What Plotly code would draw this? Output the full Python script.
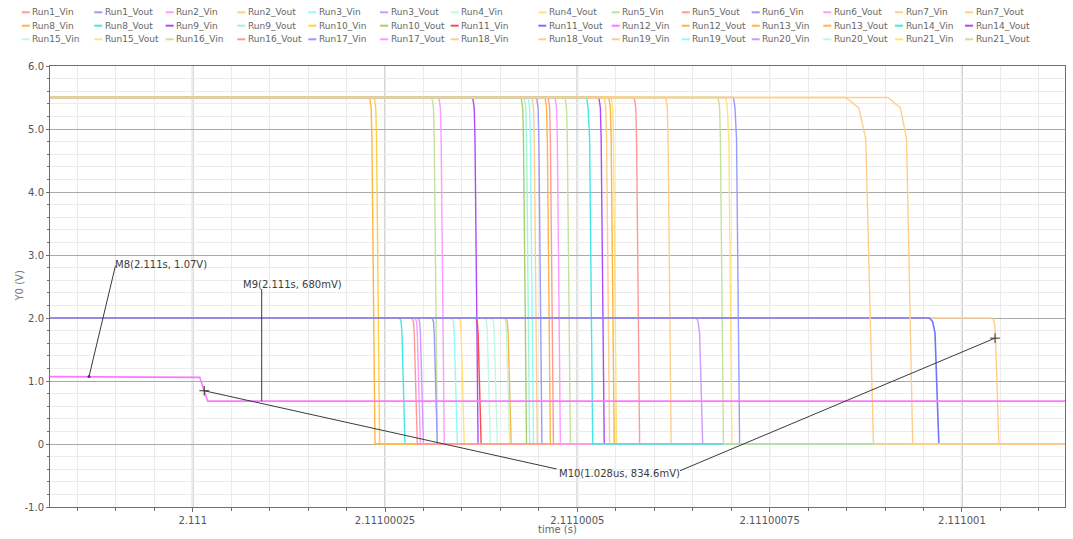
import plotly.graph_objects as go

# ---------------------------------------------------------------------------
# Transient data: 21 Monte-Carlo runs, Vin and Vout per run.
# Times are stored in ns after T0_S; every waveform holds a flat level,
# leaves it, rounds over a shoulder and a knee and settles at its low level.
# ---------------------------------------------------------------------------
T0_S = 2.111

trace_names = [f"Run{r}_{s}" for r in range(1, 22) for s in ("Vin", "Vout")]

v_high = [2.0, 5.5, 5.5, 5.5, 5.5, 2.0, 2.0, 5.5, 5.5, 5.5, 5.5, 5.5, 5.5, 5.5,
          5.5, 2.0, 5.5, 5.5, 5.5, 5.5, 2.0, 2.0, 1.07, 5.5, 5.5, 2.0, 5.5, 5.5,
          2.0, 2.0, 5.5, 5.5, 2.0, 2.0, 5.5, 5.5, 2.0, 2.0, 2.0, 2.0, 5.5, 5.5]
v_low = [0.0] * 22 + [0.68] + [0.0] * 19

t_leave_ns = [285, 447, 320, 441, 436, 293, 380, 544, 311, 462, 703, 471, 535, 615,
              230, 269, 364, 431, 236, 427, 368, 958, 8.6, 458, 541, 407, 512, 528,
              389, 346, 484, 574, 311, 289, 849, 904, 1039, 337, 655, 405, 693, 683]
t_shoulder_ns = [287, 449, 322, 443, 438, 295, 382, 546, 313, 464, 705, 473, 537, 617,
                 232, 271, 366, 433, 238, 429, 370, 962, 9.2, 460, 543, 409, 514, 530,
                 391, 348, 486, 576, 313, 291, 866, 920, 1042, 339, 657, 407, 695, 685]
t_knee_ns = [288, 450, 323, 444, 439, 296, 383, 547, 314, 465, 707, 474, 538, 618,
             233, 272, 367, 434, 239, 430, 371, 965, 10.0, 461, 544, 410, 516, 531,
             392, 349, 487, 577, 314, 292, 875, 928, 1043.5, 340, 659, 408, 697, 686]
t_low_ns = [292, 454, 327, 448, 443, 300, 387, 551, 318, 469, 711, 478, 542, 622,
            237, 276, 371, 438, 243, 434, 375, 970, 19.5, 465, 548, 414, 520, 535,
            396, 353, 491, 581, 318, 296, 885, 936, 1048, 344, 663, 412, 701, 690]

# Cursor markers (time in ns after T0_S, value in V)
m8_t_ns, m8_v = -134.8, 1.07
m9_t_ns, m9_v = 89.7, 0.68
m10_a_t_ns, m10_a_v = 15.0, 0.8454
m10_b_t_ns, m10_b_v = 1043.0, 1.6800

x_tick_ns = [0, 250, 500, 750, 1000]
x_tick_text = ["2.111", "2.11100025", "2.1110005", "2.11100075", "2.111001"]
y_tick_vals = [-1, 0, 1, 2, 3, 4, 5, 6]
y_tick_text = ["-1.0", "0", "1.0", "2.0", "3.0", "4.0", "5.0", "6.0"]

# ---------------------------------------------------------------------------
# Styling
# ---------------------------------------------------------------------------
PALE = dict(red="#ff9a9a", blue="#9a9aff", magenta="#ff9aff", orange="#ffcf8a",
            cyan="#90fbfb", purple="#cf9aff", mint="#c0f8e0", yellow="#ffe27a",
            green="#c6e29a")
SAT = dict(red="#ff4a4a", blue="#7474ff", magenta="#ff77ff", orange="#ffb545",
           cyan="#45e6e6", purple="#b04aff", mint="#a0f5d5", yellow="#ffd045",
           green="#a8d070")
colors = [
    PALE["red"], PALE["blue"], PALE["magenta"], PALE["orange"], PALE["cyan"],
    PALE["purple"], PALE["mint"], PALE["yellow"], PALE["green"], PALE["red"],
    PALE["blue"], PALE["magenta"], PALE["orange"], PALE["orange"],
    SAT["orange"], SAT["cyan"], SAT["purple"], SAT["mint"], SAT["yellow"],
    SAT["green"], SAT["red"], SAT["blue"], SAT["magenta"], SAT["orange"],
    SAT["orange"], SAT["orange"], SAT["cyan"], SAT["purple"],
    PALE["mint"], PALE["yellow"], PALE["green"], PALE["red"], PALE["blue"],
    PALE["magenta"], PALE["orange"], PALE["orange"], PALE["orange"], PALE["cyan"],
    PALE["purple"], PALE["mint"], PALE["yellow"], PALE["green"],
]
SHOULDER_FRAC = 0.97
KNEE_FRAC = 0.88
X_RANGE = [-185.5, 1134.0]
Y_RANGE = [-1.0, 6.0]

W, H = 1073, 539
ML, MR, MT, MB = 50, 8, 66, 32
PW, PH = W - ML - MR, H - MT - MB
FONT = "DejaVu Sans"

# drawing order: later traces sit on top where waveforms overlap
front = [14, 0, 11, 26, 41, 36, 21, 35, 34, 22]
draw_order = [i for i in range(len(trace_names)) if i not in front] + front


def px_x(px):
    return (px - ML) / PW


def px_y(py):
    return (H - MB - py) / PH


fig = go.Figure()

for i in draw_order:
    hi, lo = v_high[i], v_low[i]
    fig.add_trace(go.Scatter(
        x=[X_RANGE[0], t_leave_ns[i], t_shoulder_ns[i], t_knee_ns[i], t_low_ns[i],
           X_RANGE[1]],
        y=[hi, hi, lo + SHOULDER_FRAC * (hi - lo), lo + KNEE_FRAC * (hi - lo), lo, lo],
        mode="lines", name=trace_names[i], showlegend=False,
        line=dict(color=colors[i], width=1.6 if i in (21, 22) else 1.4),
        hoverinfo="skip",
    ))

# cursor points
fig.add_trace(go.Scatter(
    x=[m10_a_t_ns, m10_b_t_ns], y=[m10_a_v, m10_b_v], mode="markers",
    marker=dict(symbol="cross-thin", size=7, line=dict(color="#333333", width=1)),
    showlegend=False, hoverinfo="skip"))
fig.add_trace(go.Scatter(
    x=[m8_t_ns], y=[m8_v], mode="markers",
    marker=dict(symbol="circle", size=3, color="#444444"),
    showlegend=False, hoverinfo="skip"))

shapes = []
# major vertical grid: half-microsecond lines broad and light, others thin
for t in x_tick_ns:
    broad = t % 500 == 0
    shapes.append(dict(type="line", xref="x", yref="paper", x0=t, x1=t, y0=0, y1=1,
                       layer="between",
                       line=dict(color="#cdcdcd" if broad else "#a9a9a9",
                                 width=2 if broad else 1)))

# cursor leader lines
LEAD = dict(color="#3a3a3a", width=1)
shapes += [
    dict(type="line", xref="x", yref="y", x0=m8_t_ns, y0=m8_v, x1=-100.4, y1=2.83, line=LEAD),
    dict(type="line", xref="x", yref="y", x0=m9_t_ns, y0=m9_v, x1=m9_t_ns, y1=2.46, line=LEAD),
    dict(type="line", xref="x", yref="y", x0=m10_a_t_ns, y0=m10_a_v, x1=473.2, y1=-0.397, line=LEAD),
    dict(type="line", xref="x", yref="y", x0=m10_b_t_ns, y0=m10_b_v, x1=633.5, y1=-0.424, line=LEAD),
]

annotations = []
m8_text = f"M8({T0_S + m8_t_ns * 1e-9:.3f}s, {m8_v:.2f}V)"
m9_text = f"M9({T0_S + m9_t_ns * 1e-9:.3f}s, {m9_v * 1000:.0f}mV)"
m10_text = (f"M10({(m10_b_t_ns - m10_a_t_ns) / 1000:.3f}us, "
            f"{(m10_b_v - m10_a_v) * 1000:.1f}mV)")
for txt, tx, ty in [(m8_text, -103.5, 2.846), (m9_text, 62.4, 2.529),
                    (m10_text, 473.2, -0.467)]:
    annotations.append(dict(text=txt, x=tx, y=ty, xref="x", yref="y",
                            xanchor="left", yanchor="middle", showarrow=False,
                            font=dict(family=FONT, size=10, color="#3c3c3c")))

# legend: 14 entries per row, short colour dash + name
LEG_COL_X = [21.7, 94.3, 165.7, 237.3, 308.3, 380, 450.7, 538.3, 611.7, 681.7,
             751.7, 823.3, 895, 965]
LEG_ROW_Y = [12.3, 25.7, 39.3]
for i, name in enumerate(trace_names):
    cx, ry = LEG_COL_X[i % 14], LEG_ROW_Y[i // 14]
    shapes.append(dict(type="line", xref="paper", yref="paper",
                       x0=px_x(cx), x1=px_x(cx + 8), y0=px_y(ry), y1=px_y(ry),
                       line=dict(color=colors[i], width=2)))
    annotations.append(dict(text=name, xref="paper", yref="paper",
                            x=px_x(cx + 8.5), y=px_y(ry), xanchor="left",
                            yanchor="middle", showarrow=False,
                            font=dict(family=FONT, size=9, color="#666666")))

# axis titles
annotations.append(dict(text="Y0 (V)", xref="paper", yref="paper", x=px_x(19),
                        y=0.5, textangle=-90, showarrow=False, xanchor="center",
                        yanchor="middle",
                        font=dict(family=FONT, size=10, color="#777777")))
annotations.append(dict(text="time (s)", xref="paper", yref="paper", x=0.5,
                        y=px_y(529), showarrow=False, xanchor="center",
                        yanchor="middle",
                        font=dict(family=FONT, size=10, color="#666666")))

fig.update_layout(
    width=W, height=H,
    margin=dict(l=ML, r=MR, t=MT, b=MB),
    paper_bgcolor="white", plot_bgcolor="white",
    shapes=shapes, annotations=annotations,
    font=dict(family=FONT, size=10, color="#555555"),
    xaxis=dict(
        range=X_RANGE, tickmode="array", tickvals=x_tick_ns, ticktext=x_tick_text,
        showgrid=False, zeroline=False, showline=True, linecolor="#6e6e6e",
        mirror=True, ticks="outside", ticklen=4, tickcolor="#6e6e6e",
        tickfont=dict(family=FONT, size=10, color="#555555"),
        minor=dict(tickmode="linear", tick0=0, dtick=50, showgrid=True,
                   gridcolor="#ebebeb", gridwidth=1, ticks="outside", ticklen=3,
                   tickcolor="#6e6e6e"),
    ),
    yaxis=dict(
        range=Y_RANGE, tickmode="array", tickvals=y_tick_vals, ticktext=y_tick_text,
        showgrid=True, gridcolor="#a9a9a9", gridwidth=1, zeroline=False,
        showline=True, linecolor="#6e6e6e", mirror=True, ticks="outside",
        ticklen=3, tickcolor="#6e6e6e",
        tickfont=dict(family=FONT, size=10, color="#555555"),
        minor=dict(tickmode="linear", tick0=0, dtick=0.2, showgrid=True,
                   gridcolor="#ebebeb", gridwidth=1, ticks="outside", ticklen=2,
                   tickcolor="#6e6e6e"),
    ),
)

fig.write_html("out.html")
